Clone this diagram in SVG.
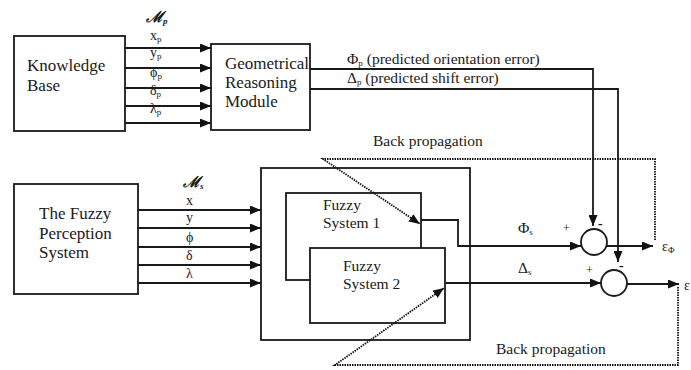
<svg xmlns="http://www.w3.org/2000/svg" width="691" height="370" viewBox="0 0 691 370">
  <style>
    .box { fill: #fff; stroke: #1a1a1a; stroke-width: 1.8; }
    .frame { fill: none; stroke: #1a1a1a; stroke-width: 1.8; }
    .ln { fill: none; stroke: #1a1a1a; stroke-width: 1.8; }
    .dot { fill: none; stroke: #111; stroke-width: 1.8; stroke-dasharray: 1.5 1; }
    text { font-family: "Liberation Serif", "Times New Roman", serif; fill: #1a1a1a; }
    .big { font-size: 17px; }
    .mid { font-size: 15.5px; }
    .sym { font-size: 14px; }
    .sub { font-size: 9px; }
    .scr { font-size: 15px; font-style: italic; font-weight: bold; }
  </style>
  <defs>
    <marker id="arr" markerWidth="11" markerHeight="9" refX="11" refY="4.5" orient="auto" markerUnits="userSpaceOnUse">
      <path d="M0,0 L11,4.5 L0,9 Z" fill="#111"/>
    </marker>
  </defs>

  <!-- knowledge base -->
  <g id="knowledge-base">
    <rect class="box" x="14" y="36" width="111" height="95"/>
    <text class="big" x="27" y="71">Knowledge</text>
    <text class="big" x="27" y="91">Base</text>
  </g>

  <!-- geometrical reasoning module -->
  <g id="reasoning-module">
    <rect class="box" x="211" y="44" width="99" height="86"/>
    <text class="big" x="225" y="69">Geometrical</text>
    <text class="big" x="225" y="88">Reasoning</text>
    <text class="big" x="225" y="107">Module</text>
  </g>

  <!-- fuzzy perception system -->
  <g id="perception-system">
    <rect class="box" x="14" y="184" width="124" height="110"/>
    <text class="big" x="39" y="219">The Fuzzy</text>
    <text class="big" x="39" y="239">Perception</text>
    <text class="big" x="39" y="258">System</text>
  </g>

  <!-- fuzzy block with two systems -->
  <g id="fuzzy-block">
    <rect class="frame" x="261" y="168" width="209" height="172"/>
  </g>
  <g id="fuzzy-system-1">
    <rect class="box" x="286" y="193" width="135" height="87"/>
    <text class="mid" x="323" y="210">Fuzzy</text>
    <text class="mid" x="323" y="228">System 1</text>
  </g>
  <g id="fuzzy-system-2">
    <rect class="box" x="310" y="248" width="135" height="75"/>
    <text class="mid" x="343" y="271">Fuzzy</text>
    <text class="mid" x="343" y="289">System 2</text>
  </g>

  <!-- comparators -->
  <g id="comparator-1">
    <circle class="box" cx="594" cy="242" r="13"/>
    <text x="563" y="232" style="font-size:12px">+</text>
    <text x="598" y="228" style="font-size:14px;font-weight:bold">-</text>
  </g>
  <g id="comparator-2">
    <circle class="box" cx="614" cy="283" r="13"/>
    <text x="586" y="274" style="font-size:12px">+</text>
    <text x="619" y="270" style="font-size:14px;font-weight:bold">-</text>
  </g>

  <!-- connectors, drawn above the boxes so arrowheads stay visible -->
  <g id="connectors">
    <!-- knowledge base to reasoning module -->
    <path class="ln" d="M125,48 H211" marker-end="url(#arr)"/>
    <path class="ln" d="M125,68 H211" marker-end="url(#arr)"/>
    <path class="ln" d="M125,88 H211" marker-end="url(#arr)"/>
    <path class="ln" d="M125,106 H211" marker-end="url(#arr)"/>
    <path class="ln" d="M125,123 H211" marker-end="url(#arr)"/>
    <!-- perception system to fuzzy block -->
    <path class="ln" d="M138,210 H261" marker-end="url(#arr)"/>
    <path class="ln" d="M138,228 H261" marker-end="url(#arr)"/>
    <path class="ln" d="M138,247 H261" marker-end="url(#arr)"/>
    <path class="ln" d="M138,265 H261" marker-end="url(#arr)"/>
    <path class="ln" d="M138,283 H261" marker-end="url(#arr)"/>
    <!-- predicted errors down to the comparators -->
    <path class="ln" d="M310,69 H593 V226" marker-end="url(#arr)"/>
    <path class="ln" d="M310,89 H618 V262" marker-end="url(#arr)"/>
    <!-- fuzzy system outputs -->
    <path class="ln" d="M421,220 H458 V246 H581" marker-end="url(#arr)"/>
    <path class="ln" d="M445,283 H601" marker-end="url(#arr)"/>
    <!-- comparator outputs -->
    <path class="ln" d="M606,246 H653" marker-end="url(#arr)"/>
    <path class="ln" d="M627,284 H679" marker-end="url(#arr)"/>
    <!-- back propagation paths -->
    <path class="dot" d="M655,240 V159 H323 L420,224" marker-end="url(#arr)"/>
    <path class="dot" d="M678,287 V365 H335 L444,288" marker-end="url(#arr)"/>
  </g>

  <!-- labels -->
  <g id="labels">
    <text class="scr" x="146" y="22">ℳ<tspan class="sub" dy="2">p</tspan></text>
    <text class="sym" x="150" y="40">x<tspan class="sub" dy="2">p</tspan></text>
    <text class="sym" x="150" y="57">y<tspan class="sub" dy="2">p</tspan></text>
    <text class="sym" x="150" y="77">ϕ<tspan class="sub" dy="2">p</tspan></text>
    <text class="sym" x="150" y="95">δ<tspan class="sub" dy="2">p</tspan></text>
    <text class="sym" x="150" y="113">λ<tspan class="sub" dy="2">p</tspan></text>

    <text class="scr" x="183" y="187">ℳ<tspan class="sub" dy="2">s</tspan></text>
    <text class="sym" x="186" y="205">x</text>
    <text class="sym" x="186" y="222">y</text>
    <text class="sym" x="186" y="242">ϕ</text>
    <text class="sym" x="186" y="260">δ</text>
    <text class="sym" x="186" y="278">λ</text>

    <text class="mid" x="347" y="64">Φ<tspan class="sub" dy="2">p</tspan><tspan dy="-2"> (predicted orientation error)</tspan></text>
    <text class="mid" x="347" y="83">Δ<tspan class="sub" dy="2">p</tspan><tspan dy="-2">  (predicted shift error)</tspan></text>

    <text class="mid" x="373" y="146">Back propagation</text>
    <text class="mid" x="496" y="354">Back propagation</text>

    <text class="mid" x="518" y="233">Φ<tspan class="sub" dy="2">s</tspan></text>
    <text class="mid" x="518" y="273">Δ<tspan class="sub" dy="2">s</tspan></text>

    <text class="sym" x="662" y="251">ε<tspan class="sub" dy="2">Φ</tspan></text>
    <text class="sym" x="684" y="290">ε</text>
  </g>
</svg>
